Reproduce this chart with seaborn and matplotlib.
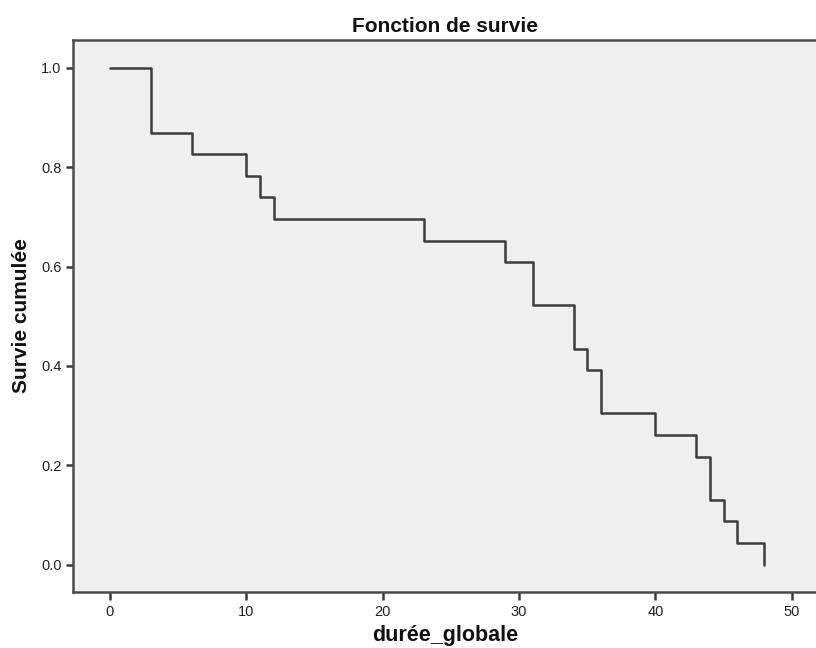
import matplotlib
matplotlib.use("Agg")
import matplotlib.pyplot as plt
import seaborn as sns
import pandas as pd

# Kaplan-Meier survival estimates (n = 23)
times = [0, 3, 6, 10, 11, 12, 23, 29, 31, 34, 35, 36, 40, 43, 44, 45, 46, 48]
survival = [1.0, 0.8696, 0.8261, 0.7826, 0.7391, 0.6957, 0.6522, 0.6087,
            0.5217, 0.4348, 0.3913, 0.3043, 0.2609, 0.2174, 0.1304, 0.0870,
            0.0435, 0.0]
x_ticks = [0, 10, 20, 30, 40, 50]
y_ticks = [0.0, 0.2, 0.4, 0.6, 0.8, 1.0]
title = "Fonction de survie"
x_label = "durée_globale"
y_label = "Survie cumulée"

df = pd.DataFrame({"t": times, "s": survival})

sns.set_theme(style="ticks")
plt.rcParams["font.family"] = ["Liberation Sans", "DejaVu Sans"]

fig = plt.figure(figsize=(8.16, 6.48), dpi=100)
ax = fig.add_axes([72.5 / 816, 1 - 592 / 648, 1 - 72.5 / 816 + 0.002, (592 - 40) / 648])
ax.set_facecolor("#efefef")

sns.lineplot(data=df, x="t", y="s", drawstyle="steps-post", color="#3c3c3c",
             linewidth=1.8, ax=ax, sort=False)

ax.set_xlim(-2.75, 51.9)
ax.set_ylim(-0.055, 1.056)
ax.set_xticks(x_ticks)
ax.set_yticks(y_ticks)
ax.set_yticklabels([f"{v:.1f}" for v in y_ticks])
ax.tick_params(axis="both", direction="out", width=1.8,
               color="#3a3a3a", labelsize=10.5, labelcolor="#222222")
ax.tick_params(axis="x", length=6, pad=3)
ax.tick_params(axis="y", length=5, pad=3)

for side in ["left", "bottom", "top"]:
    ax.spines[side].set_visible(True)
    ax.spines[side].set_color("#4a4a4a")
    ax.spines[side].set_linewidth(1.8)
ax.spines["right"].set_visible(False)

ax.set_title(title, fontsize=15, fontweight="bold", pad=6, color="#111111")
ax.set_xlabel(x_label, fontsize=15.5, fontweight="bold", labelpad=5, color="#111111")
ax.set_ylabel(y_label, fontsize=15, fontweight="bold", labelpad=7, color="#111111")

fig.savefig("out.png", dpi=100)
